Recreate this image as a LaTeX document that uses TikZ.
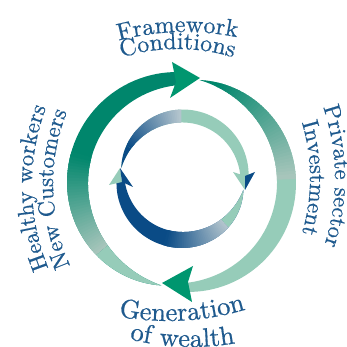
\documentclass[tikz,border=0pt]{standalone}
\usepackage{fontspec}
\usetikzlibrary{decorations.text}
\newfontfamily\tfam{lmroman10-regular.otf}[RawFeature={embolden=0.6}]
\definecolor{dgreen}{HTML}{00866C}
\definecolor{hgreen}{HTML}{00966F}
\definecolor{mint}{HTML}{96CCB9}
\definecolor{gmint}{HTML}{A9C6BC}
\definecolor{dblue}{HTML}{0A4B86}
\definecolor{lblue}{HTML}{B5C6CE}
\definecolor{tblue}{HTML}{1F5A8E}
\newcommand\sfnt{\tfam\fontsize{23}{28}\selectfont\color{tblue}}
\newcommand\tfnt{\tfam\fontsize{24}{28}\selectfont\color{tblue}}
\newcommand\bfnt{\tfam\fontsize{26.5}{30}\selectfont\color{tblue}}
% #1 tail angle, #2 end angle, #3 mid radius, #4 max width, #5 end shrink
\newcommand\crescentfill[6]{%
  \fill[#6] plot[domain=0:1,samples=60,variable=\s]
    ({#1+(#2-#1)*\s}:{#3+0.5*#4*ifthenelse(\s<0.5,4*\s*(1-\s),1-#5*(2*\s-1)*(2*\s-1))})
    -- plot[domain=1:0,samples=60,variable=\s]
    ({#1+(#2-#1)*\s}:{#3-0.5*#4*ifthenelse(\s<0.5,4*\s*(1-\s),1-#5*(2*\s-1)*(2*\s-1))})
    -- cycle;}
\newcommand\crescentclip[5]{%
  \clip plot[domain=0:1,samples=60,variable=\s]
    ({#1+(#2-#1)*\s}:{#3+0.5*#4*ifthenelse(\s<0.5,4*\s*(1-\s),1-#5*(2*\s-1)*(2*\s-1))})
    -- plot[domain=1:0,samples=60,variable=\s]
    ({#1+(#2-#1)*\s}:{#3-0.5*#4*ifthenelse(\s<0.5,4*\s*(1-\s),1-#5*(2*\s-1)*(2*\s-1))})
    -- cycle;}
% #1 from angle, #2 to angle, #3 from colour, #4 to colour, #5 steps
\newcommand\gradwedges[5]{%
  \foreach \i in {1,...,#5}{
    \pgfmathsetmacro\ta{#1+(#2-#1)*(\i-1)/#5}
    \pgfmathsetmacro\tb{#1+(#2-#1)*(\i+0.6)/#5}
    \pgfmathsetmacro\tm{(\ta+\tb)/2}
    \pgfmathsetmacro\pp{100*(\i-0.5)/#5}
    \fill[#4!\pp!#3] (0,0) -- (\ta:150) -- (\tm:150) -- (\tb:150) -- cycle;
  }}
\tikzset{
  curvedtext/.style 2 args={decorate, decoration={text along path, text={|#1|#2}, text align=center}}
}
\begin{document}
\begin{tikzpicture}[x=1pt,y=1pt]
\useasboundingbox (0,0) rectangle (346,347);
% ---------- outer ring ----------
\begin{scope}[shift={(182,164)}]
  \crescentfill{258.7}{92}{104.5}{21}{0.38}{dgreen}
  \begin{scope}
    \crescentclip{258.7}{92}{104.5}{21}{0.38}
    \fill[mint] (0,0) -- (265:150) -- (242:150) -- (220:150) -- cycle;
    \gradwedges{220}{165}{gmint}{dgreen}{36}
  \end{scope}
  \crescentfill{80.3}{-88}{104.5}{19}{0.53}{mint}
  \begin{scope}
    \crescentclip{80.3}{-88}{104.5}{19}{0.53}
    \fill[dgreen] (0,0) -- (86:150) -- (78:150) -- (69:150) -- cycle;
    \gradwedges{70}{3}{dgreen}{gmint}{40}
  \end{scope}
  \fill[hgreen] (-10,121) -- (18,105) -- (-12,85) -- (-6,101) -- cycle;
  \fill[hgreen] (11,-83) -- (-20,-100) -- (10,-119) -- (6,-99) -- cycle;
\end{scope}
% ---------- inner ring ----------
\begin{scope}[shift={(182.5,169)}]
  \crescentfill{170.9}{0}{62}{13}{0.38}{mint}
  \begin{scope}
    \crescentclip{170.9}{0}{62}{13}{0.38}
    \fill[dblue] (0,0) -- (176:150) -- (163:150) -- (150:150) -- cycle;
    \gradwedges{150}{92}{dblue}{lblue}{36}
  \end{scope}
  \crescentfill{-10.9}{-178}{62}{16}{0.5}{dblue}
  \begin{scope}
    \crescentclip{-10.9}{-178}{62}{16}{0.5}
    \fill[mint] (0,0) -- (-5:150) -- (-26:150) -- (-47:150) -- cycle;
    \gradwedges{-47}{-105}{lblue}{dblue}{36}
  \end{scope}
  \fill[mint] (50.5,6) -- (62.5,2) -- (62.5,-12) -- cycle;
  \fill[dblue] (62.5,2) -- (72.5,6) -- (62.5,-12) -- cycle;
  \fill[mint] (-73.5,-7) -- (-62.5,10) -- (-60.5,-4) -- cycle;
  \fill[dblue] (-60.5,-4) -- (-62.5,10) -- (-49.5,-9) -- cycle;
\end{scope}
% ---------- texts ----------
\path[curvedtext={\tfnt}{Framework}] (185,55) ++(121.65:260) arc[start angle=121.65, end angle=61.65, radius=260];
\path[curvedtext={\tfnt}{Conditions}] (177.5,110) ++(120:188) arc[start angle=120, end angle=60, radius=188];
\path[curvedtext={\sfnt}{Healthy workers}] (250,162) ++(220.8:218) arc[start angle=220.8, end angle=140.8, radius=218];
\path[curvedtext={\sfnt}{New Customers}] (250,162) ++(221.2:197) arc[start angle=221.2, end angle=141.2, radius=197];
\path[curvedtext={\sfnt}{Private sector}] (118,169) ++(40.5:217) arc[start angle=40.5, end angle=-39.5, radius=217];
\path[curvedtext={\sfnt}{Investment}] (118,169) ++(40:192) arc[start angle=40, end angle=-40, radius=192];
\path[curvedtext={\bfnt}{Generation}] (168,296) ++(253.1:270) arc[start angle=253.1, end angle=293.1, radius=270];
\path[curvedtext={\bfnt}{of wealth}] (192,256) ++(247.8:256) arc[start angle=247.8, end angle=287.8, radius=256];
\end{tikzpicture}
\end{document}
